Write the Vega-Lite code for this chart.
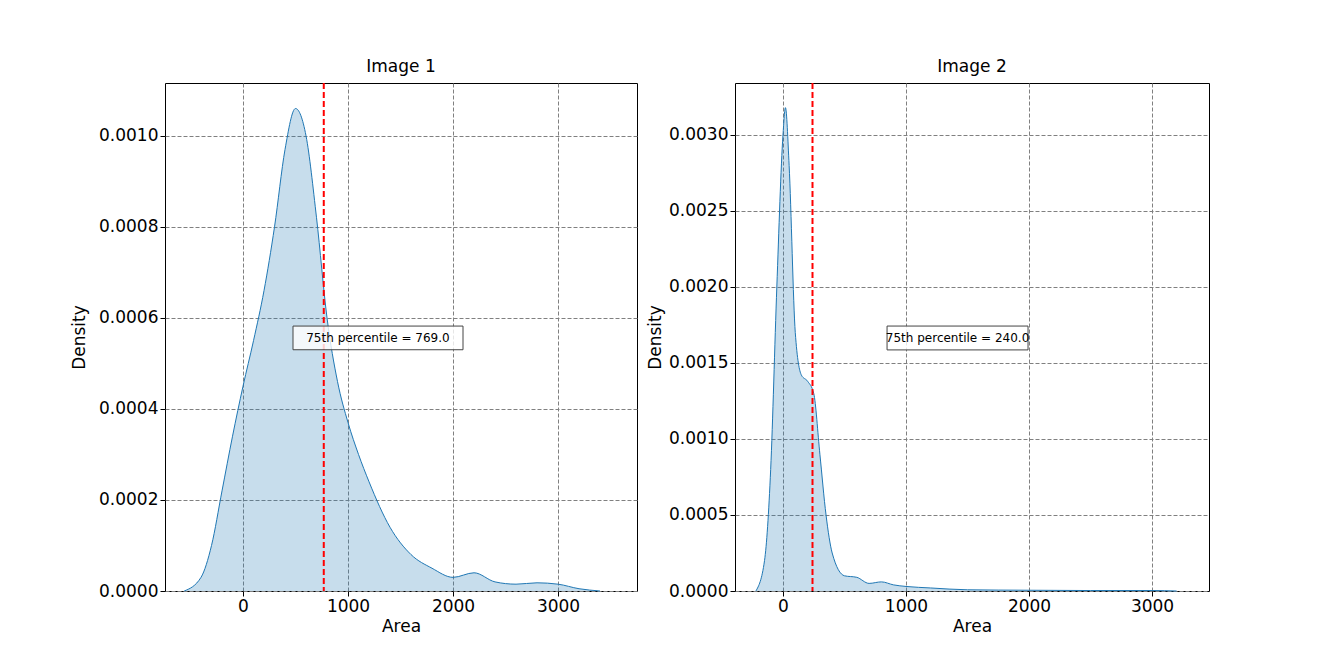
{
  "$schema": "https://vega.github.io/schema/vega-lite/v6.json",
  "background": "white",
  "padding": {"left": 70, "top": 57, "right": 10, "bottom": 10},
  "spacing": 8,
  "config": {
    "font": "DejaVu Sans",
    "view": {"stroke": "black", "strokeWidth": 1},
    "axis": {
      "labelFontSize": 17, "titleFontSize": 17, "titleFontWeight": "normal",
      "labelColor": "black", "titleColor": "black", "domain": false,
      "tickColor": "black", "tickSize": 5,
      "grid": true, "gridColor": "#808080", "gridDash": [4, 2], "gridOpacity": 1
    },
    "title": {"fontSize": 17, "fontWeight": "normal", "offset": 6}
  },
  "datasets": {
    "d1": [
      {"x": -560, "y": 0}, {"x": -400, "y": 0.00003}, {"x": -300, "y": 0.0001}, {"x": -200, "y": 0.00022},
      {"x": -100, "y": 0.00034}, {"x": 0, "y": 0.00045}, {"x": 100, "y": 0.00055}, {"x": 200, "y": 0.00066},
      {"x": 300, "y": 0.0008}, {"x": 400, "y": 0.00097}, {"x": 500, "y": 0.00106}, {"x": 600, "y": 0.001},
      {"x": 700, "y": 0.00082}, {"x": 800, "y": 0.0006}, {"x": 900, "y": 0.00046}, {"x": 1000, "y": 0.00037},
      {"x": 1100, "y": 0.0003}, {"x": 1200, "y": 0.00024}, {"x": 1400, "y": 0.00014}, {"x": 1600, "y": 0.00008},
      {"x": 1800, "y": 0.00005}, {"x": 2000, "y": 0.00003}, {"x": 2200, "y": 0.00004}, {"x": 2400, "y": 0.00002},
      {"x": 2600, "y": 0.000015}, {"x": 2800, "y": 0.000018}, {"x": 3000, "y": 0.000015}, {"x": 3200, "y": 0.000005},
      {"x": 3400, "y": 0}
    ],
    "d2": [
      {"x": -220, "y": 0}, {"x": -150, "y": 0.0002}, {"x": -100, "y": 0.0008}, {"x": -50, "y": 0.002},
      {"x": 0, "y": 0.003}, {"x": 20, "y": 0.00318}, {"x": 50, "y": 0.0028}, {"x": 100, "y": 0.0017},
      {"x": 150, "y": 0.00142}, {"x": 200, "y": 0.00138}, {"x": 250, "y": 0.0013}, {"x": 300, "y": 0.0009},
      {"x": 350, "y": 0.0005}, {"x": 400, "y": 0.00025}, {"x": 500, "y": 0.0001}, {"x": 600, "y": 0.00009},
      {"x": 700, "y": 0.00005}, {"x": 800, "y": 0.00006}, {"x": 900, "y": 0.00004}, {"x": 1000, "y": 0.00003},
      {"x": 1200, "y": 0.00002}, {"x": 1500, "y": 0.000008}, {"x": 2000, "y": 0.000005}, {"x": 2500, "y": 0.000003},
      {"x": 3000, "y": 0.000003}, {"x": 3200, "y": 0}
    ],
    "p1": [{"p": 769, "bx": 476, "bx2": 2095, "by": 0.000582, "by2": 0.00053, "tx": 1285, "ty": 0.000556, "label": "75th percentile = 769.0"}],
    "p2": [{"p": 240, "bx": 846, "bx2": 1992, "by": 0.001743, "by2": 0.001586, "tx": 1419, "ty": 0.001664, "label": "75th percentile = 240.0"}]
  },
  "hconcat": [
    {
      "title": "Image 1",
      "width": 472, "height": 508,
      "layer": [
        {
          "data": {"name": "d1"},
          "mark": {"type": "area", "color": "#1f77b4", "fillOpacity": 0.25, "line": {"color": "#1f77b4", "strokeWidth": 1}, "interpolate": "monotone"},
          "encoding": {
            "x": {"field": "x", "type": "quantitative", "title": "Area", "scale": {"domain": [-743, 3752], "nice": false}, "axis": {"values": [0, 1000, 2000, 3000], "format": "d"}},
            "y": {"field": "y", "type": "quantitative", "title": "Density", "scale": {"domain": [0, 0.001116], "nice": false}, "axis": {"values": [0, 0.0002, 0.0004, 0.0006, 0.0008, 0.001], "format": ".4f", "titlePadding": 10}}
          }
        },
        {
          "data": {"name": "p1"},
          "mark": {"type": "rule", "color": "red", "strokeWidth": 2, "strokeDash": [6, 3]},
          "encoding": {"x": {"field": "p", "type": "quantitative"}}
        },
        {
          "data": {"name": "p1"},
          "mark": {"type": "rect", "fill": "white", "fillOpacity": 0.8, "stroke": "#444", "strokeWidth": 1},
          "encoding": {"x": {"field": "bx", "type": "quantitative"}, "x2": {"field": "bx2"}, "y": {"field": "by", "type": "quantitative"}, "y2": {"field": "by2"}}
        },
        {
          "data": {"name": "p1"},
          "mark": {"type": "text", "fontSize": 12, "color": "black"},
          "encoding": {"x": {"field": "tx", "type": "quantitative"}, "y": {"field": "ty", "type": "quantitative"}, "text": {"field": "label"}}
        }
      ]
    },
    {
      "title": "Image 2",
      "width": 474, "height": 508,
      "layer": [
        {
          "data": {"name": "d2"},
          "mark": {"type": "area", "color": "#1f77b4", "fillOpacity": 0.25, "line": {"color": "#1f77b4", "strokeWidth": 1}, "interpolate": "monotone"},
          "encoding": {
            "x": {"field": "x", "type": "quantitative", "title": "Area", "scale": {"domain": [-390, 3463], "nice": false}, "axis": {"values": [0, 1000, 2000, 3000], "format": "d"}},
            "y": {"field": "y", "type": "quantitative", "title": "Density", "scale": {"domain": [0, 0.003342], "nice": false}, "axis": {"values": [0, 0.0005, 0.001, 0.0015, 0.002, 0.0025, 0.003], "format": ".4f", "titlePadding": 4}}
          }
        },
        {
          "data": {"name": "p2"},
          "mark": {"type": "rule", "color": "red", "strokeWidth": 2, "strokeDash": [6, 3]},
          "encoding": {"x": {"field": "p", "type": "quantitative"}}
        },
        {
          "data": {"name": "p2"},
          "mark": {"type": "rect", "fill": "white", "fillOpacity": 0.8, "stroke": "#444", "strokeWidth": 1},
          "encoding": {"x": {"field": "bx", "type": "quantitative"}, "x2": {"field": "bx2"}, "y": {"field": "by", "type": "quantitative"}, "y2": {"field": "by2"}}
        },
        {
          "data": {"name": "p2"},
          "mark": {"type": "text", "fontSize": 12, "color": "black"},
          "encoding": {"x": {"field": "tx", "type": "quantitative"}, "y": {"field": "ty", "type": "quantitative"}, "text": {"field": "label"}}
        }
      ]
    }
  ]
}
